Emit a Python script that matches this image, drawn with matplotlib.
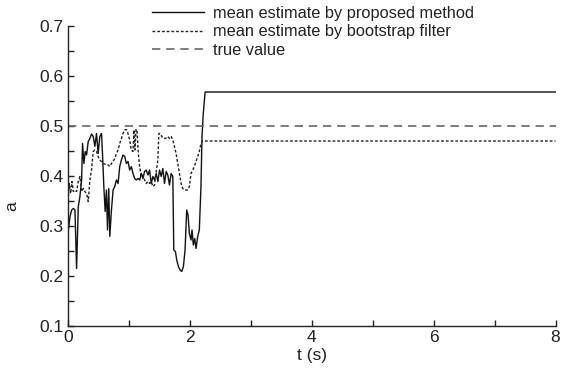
import matplotlib
matplotlib.use("Agg")
import matplotlib.pyplot as plt
from matplotlib.ticker import MultipleLocator, FormatStrFormatter

plt.rcParams['font.family'] = ['Liberation Sans', 'DejaVu Sans']

# Mean estimate by the proposed method
t_prop = [0.0, 0.033, 0.060, 0.087, 0.114, 0.141, 0.169, 0.196, 0.223, 0.239,
          0.261, 0.283, 0.305, 0.332, 0.359, 0.386, 0.414, 0.441, 0.468, 0.495,
          0.522, 0.550, 0.566, 0.588, 0.610, 0.631, 0.648, 0.669, 0.686, 0.713,
          0.740, 0.767, 0.795, 0.822, 0.849, 0.876, 0.903, 0.931, 0.958, 0.985,
          1.012, 1.039, 1.067, 1.094, 1.121, 1.148, 1.176, 1.203, 1.230, 1.257,
          1.284, 1.312, 1.339, 1.366, 1.393, 1.420, 1.448, 1.475, 1.502, 1.529,
          1.556, 1.584, 1.611, 1.638, 1.665, 1.693, 1.720, 1.736, 1.763, 1.785,
          1.812, 1.839, 1.867, 1.894, 1.921, 1.948, 1.970, 1.992, 2.019, 2.035,
          2.057, 2.079, 2.101, 2.128, 2.155, 2.182, 2.199, 2.220, 2.250, 8.0]
a_prop = [0.285, 0.319, 0.332, 0.335, 0.332, 0.215, 0.339, 0.359, 0.392, 0.465,
          0.425, 0.449, 0.442, 0.469, 0.475, 0.484, 0.479, 0.459, 0.485, 0.445,
          0.479, 0.485, 0.445, 0.379, 0.329, 0.372, 0.292, 0.375, 0.279, 0.332,
          0.372, 0.379, 0.392, 0.385, 0.419, 0.432, 0.442, 0.439, 0.425, 0.429,
          0.412, 0.419, 0.405, 0.395, 0.392, 0.395, 0.392, 0.405, 0.395, 0.409,
          0.412, 0.402, 0.412, 0.385, 0.399, 0.392, 0.405, 0.389, 0.412, 0.399,
          0.415, 0.385, 0.409, 0.402, 0.382, 0.405, 0.399, 0.252, 0.249, 0.232,
          0.219, 0.212, 0.209, 0.219, 0.252, 0.332, 0.322, 0.285, 0.272, 0.292,
          0.262, 0.275, 0.255, 0.279, 0.292, 0.379, 0.479, 0.525, 0.568, 0.568]

# Mean estimate by the bootstrap filter
t_boot = [0.0, 0.022, 0.044, 0.065, 0.087, 0.114, 0.141, 0.169, 0.196, 0.223,
          0.250, 0.278, 0.305, 0.332, 0.359, 0.386, 0.414, 0.441, 0.468, 0.495,
          0.522, 0.550, 0.577, 0.604, 0.631, 0.658, 0.686, 0.713, 0.740, 0.767,
          0.795, 0.822, 0.849, 0.876, 0.903, 0.931, 0.958, 0.985, 1.012, 1.039,
          1.067, 1.083, 1.099, 1.116, 1.132, 1.154, 1.176, 1.203, 1.230, 1.257,
          1.284, 1.312, 1.339, 1.366, 1.393, 1.420, 1.448, 1.475, 1.491, 1.513,
          1.540, 1.567, 1.600, 1.638, 1.665, 1.693, 1.720, 1.747, 1.774, 1.801,
          1.829, 1.856, 1.883, 1.910, 1.937, 1.965, 1.992, 2.019, 2.046, 2.073,
          2.101, 2.128, 2.155, 2.182, 2.209, 8.0]
a_boot = [0.352, 0.385, 0.365, 0.389, 0.369, 0.372, 0.369, 0.389, 0.399, 0.369,
          0.375, 0.369, 0.365, 0.349, 0.392, 0.412, 0.449, 0.452, 0.449, 0.439,
          0.432, 0.429, 0.425, 0.424, 0.422, 0.422, 0.419, 0.425, 0.429, 0.435,
          0.445, 0.452, 0.465, 0.475, 0.485, 0.492, 0.493, 0.485, 0.472, 0.452,
          0.449, 0.492, 0.452, 0.493, 0.493, 0.445, 0.419, 0.399, 0.402, 0.392,
          0.385, 0.389, 0.385, 0.389, 0.379, 0.382, 0.409, 0.432, 0.485, 0.485,
          0.479, 0.475, 0.475, 0.479, 0.475, 0.479, 0.472, 0.459, 0.445, 0.425,
          0.405, 0.385, 0.375, 0.372, 0.372, 0.372, 0.379, 0.405, 0.412, 0.419,
          0.429, 0.439, 0.449, 0.465, 0.470, 0.470]

# True parameter value
t_true = [0.0, 8.0]
a_true = [0.5, 0.5]

labels = ["mean estimate by proposed method",
          "mean estimate by bootstrap filter",
          "true value"]

fig = plt.figure(figsize=(5.61, 3.78), dpi=100)
ax = fig.add_axes([0.1212, 0.1376, 0.8690, 0.7936])

l1, = ax.plot(t_prop, a_prop, color="#111111", lw=1.0, ls="-")
l2, = ax.plot(t_boot, a_boot, color="#222222", lw=1.0, ls=(0, (2.0, 1.4)))
l3, = ax.plot(t_true, a_true, color="#666666", lw=1.2, ls=(0, (5, 3.5)))

ax.set_xlim(0, 8)
ax.set_ylim(0.1, 0.7)
ax.xaxis.set_major_locator(MultipleLocator(2))
ax.xaxis.set_minor_locator(MultipleLocator(1))
ax.yaxis.set_major_locator(MultipleLocator(0.1))
ax.yaxis.set_minor_locator(MultipleLocator(0.05))
ax.yaxis.set_major_formatter(FormatStrFormatter('%.1f'))
ax.tick_params(which="both", direction="in", length=4, width=1,
               labelsize=12.5, color="#222222", labelcolor="#222222", pad=3)
for side in ("top", "right"):
    ax.spines[side].set_visible(False)
for side in ("left", "bottom"):
    ax.spines[side].set_linewidth(1.0)
    ax.spines[side].set_color("#222222")

ax.set_xlabel("t (s)", fontsize=12.5, color="#222222", labelpad=2)
ax.set_ylabel("a", fontsize=12.5, color="#222222")
ax.yaxis.set_label_coords(-0.100, 0.40)

fig.legend([l1, l2, l3], labels, loc="upper left",
           bbox_to_anchor=(0.25, 1.014), frameon=False, fontsize=11.8,
           handlelength=3.2, handletextpad=0.55, labelspacing=0.2,
           borderpad=0.2, labelcolor="#222222")

fig.savefig("out.png", dpi=100)
